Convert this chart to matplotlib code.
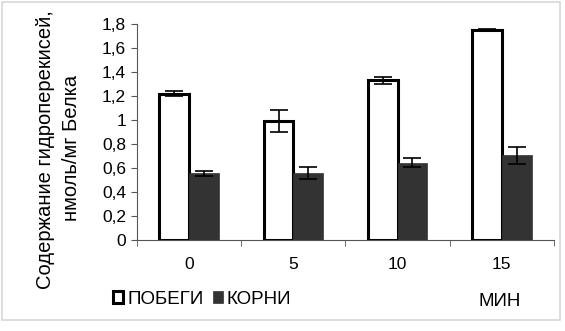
import numpy as np
import matplotlib.pyplot as plt
from matplotlib.patches import Rectangle

plt.rcParams['font.family'] = ['Liberation Sans', 'DejaVu Sans']

# data
times = ['0', '5', '10', '15']
shoots = [1.22, 0.99, 1.33, 1.75]
shoots_err = [0.02, 0.09, 0.03, 0.01]
roots = [0.555, 0.555, 0.645, 0.705]
roots_err = [0.02, 0.05, 0.04, 0.07]
yticks = [0, 0.2, 0.4, 0.6, 0.8, 1.0, 1.2, 1.4, 1.6, 1.8]
ylabels = ['0', '0,2', '0,4', '0,6', '0,8', '1', '1,2', '1,4', '1,6', '1,8']

fig = plt.figure(figsize=(5.65, 3.31), dpi=100)
ax = fig.add_axes([0.2425, 0.2749, 0.738, 0.6526])

x = np.arange(len(times))
w = 0.285
ax.bar(x - w / 2, shoots, w, color='white', edgecolor='black', linewidth=2.2,
       yerr=shoots_err, error_kw=dict(ecolor='black', elinewidth=1.2, capsize=6.5, capthick=1.2),
       label='ПОБЕГИ', zorder=2)
ax.bar(x + w / 2, roots, w, color='#333333', edgecolor='#333333', linewidth=0.5,
       yerr=roots_err, error_kw=dict(ecolor='black', elinewidth=1.2, capsize=6.5, capthick=1.2),
       label='КОРНИ', zorder=2)

ax.set_xlim(-0.5, len(times) - 0.5)
ax.set_ylim(0, 1.8)
ax.set_yticks(yticks)
ax.set_yticklabels(ylabels, fontsize=12.5)
ax.set_xticks(x)
ax.set_xticklabels(times, fontsize=12.5)
ax.set_xticks(np.arange(len(times) + 1) - 0.5, minor=True)
ax.tick_params(axis='x', which='major', length=0, pad=12)
ax.tick_params(axis='x', which='minor', length=4, color='#555555', direction='out')
ax.tick_params(axis='y', length=4, color='#555555', pad=4)
for s in ['top', 'right']:
    ax.spines[s].set_visible(False)
for s in ['left', 'bottom']:
    ax.spines[s].set_color('#555555')
    ax.spines[s].set_linewidth(0.8)

fig.text(0.08, 0.547, 'Содержание гидроперекисей,', rotation=90, fontsize=14.5,
         ha='center', va='center')
fig.text(0.127, 0.553, 'нмоль/мг Белка', rotation=90, fontsize=14.5,
         ha='center', va='center')

ax.legend(loc='center left', bbox_to_anchor=(0.2, 1 - 299 / 331), bbox_transform=fig.transFigure,
          ncol=2, frameon=False, fontsize=13.5, handlelength=0.55, handleheight=0.55,
          handletextpad=0.2, columnspacing=0.5, borderpad=0, borderaxespad=0)
fig.text(0.885, 1 - 302 / 331, 'МИН', fontsize=13.5, ha='center', va='center')

fig.patches.append(Rectangle((0.004, 0.033), 0.988, 0.96, transform=fig.transFigure,
                             fill=False, edgecolor='#d8d8d8', linewidth=1.2))

fig.savefig('out.png', dpi=100)
